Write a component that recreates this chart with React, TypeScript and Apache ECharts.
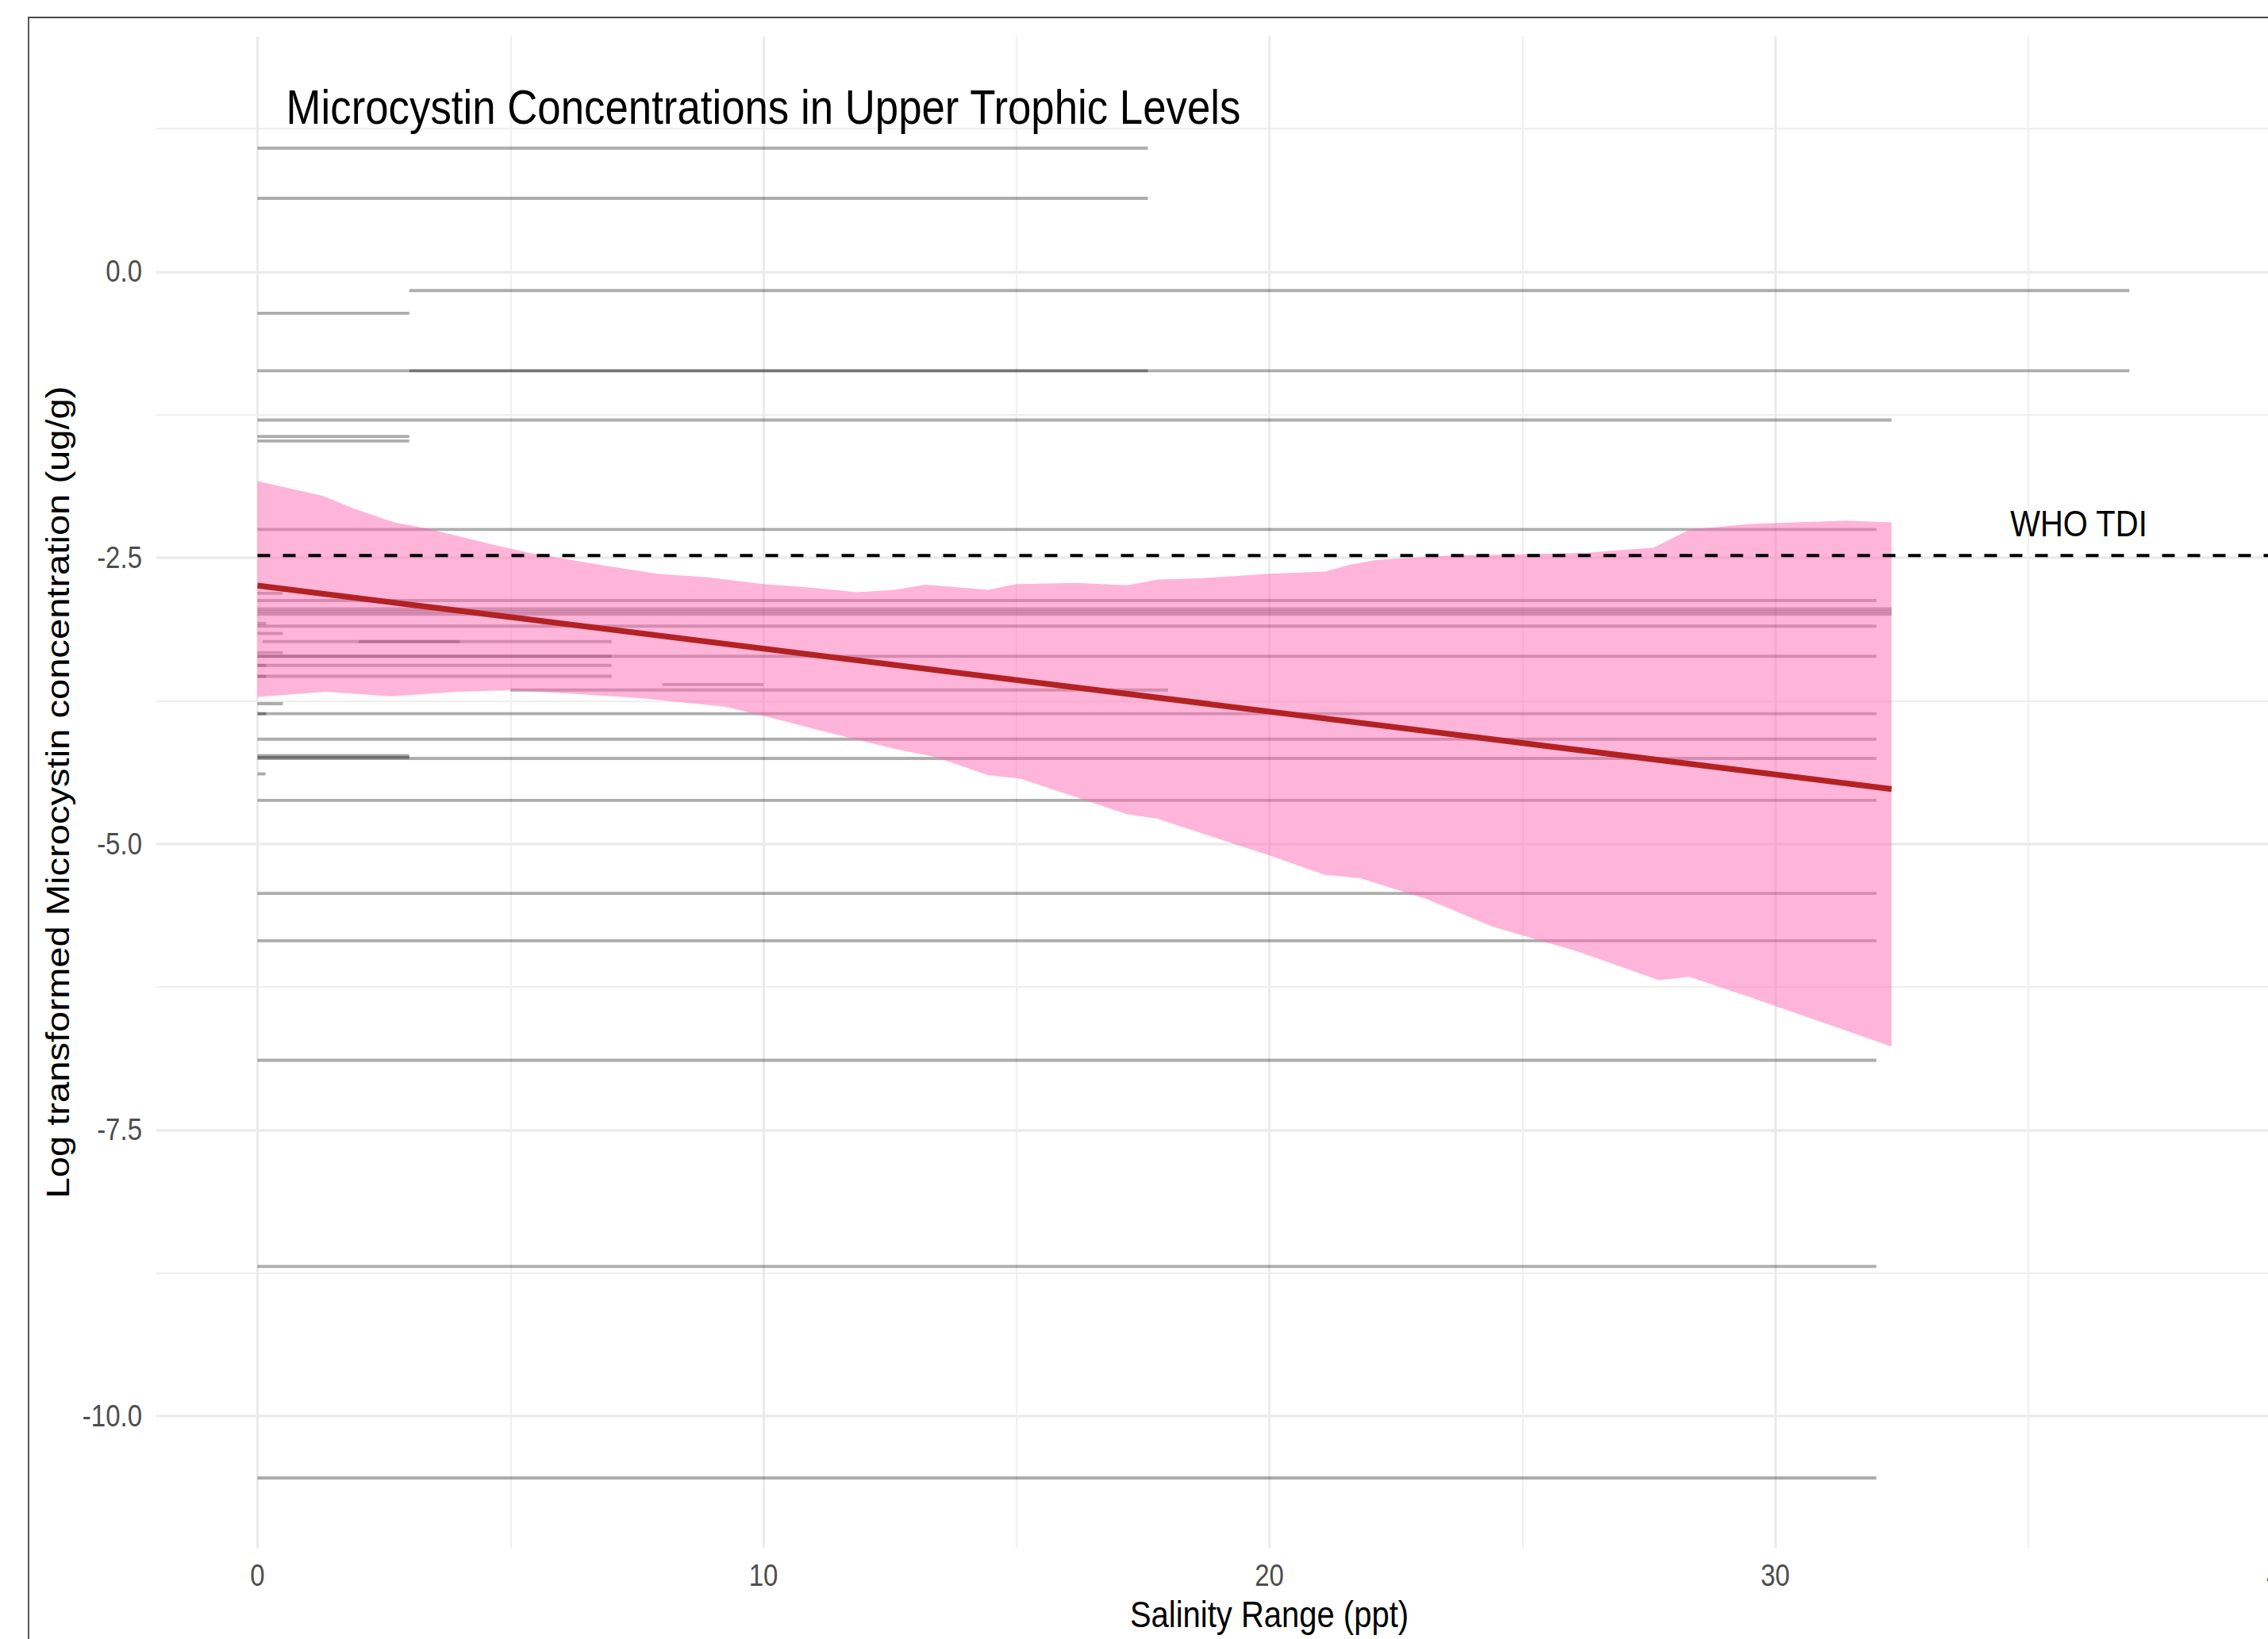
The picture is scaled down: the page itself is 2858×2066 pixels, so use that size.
import React, { useEffect, useRef } from 'react';
import * as echarts from 'echarts';

// ---------------- data ----------------
// Each grey segment: a salinity range (from -> to) at one log concentration
const segY = [
  1.082, 0.645, -0.164, -0.363, -0.867, -0.867, -1.292, -1.44, -1.475,
  -2.25, -2.81, -2.875, -2.94, -2.965, -2.99, -3.07, -3.095, -3.16,
  -3.23, -3.23, -3.33, -3.355, -3.355, -3.44, -3.44, -3.537, -3.537,
  -3.608, -3.65, -3.77, -3.86, -3.86, -4.08, -4.225, -4.245, -4.25,
  -4.385, -4.62, -5.43, -5.845, -6.887, -8.688, -10.539,
];
const segFrom = [
  0, 0, 3, 0, 0, 3, 0, 0, 0,
  0, 0, 0, 0, 0, 0, 0, 0, 0,
  0.1, 2, 0, 0, 0, 0, 0, 0, 0,
  8, 5, 0, 0, 0, 0, 0, 0, 0,
  0, 0, 0, 0, 0, 0, 0,
];
const segTo = [
  17.6, 17.6, 37, 3, 37, 17.6, 32.3, 3, 3,
  32, 0.5, 32, 32.3, 32.3, 32.3, 0.17, 32, 0.5,
  7, 4, 0.5, 32, 7, 7, 0.17, 7, 0.17,
  10, 18, 0.5, 32, 0.17, 32, 3, 3, 32,
  0.16, 32, 32, 32, 32, 32, 32,
];

// Confidence band of the regression
const ciUpperX = [0, 1.3, 1.9, 2.7, 3.4, 4.6, 5.4, 6.9, 7.9, 8.9, 10, 10.8, 11.85, 12.6, 13.2, 14.45, 15, 16.2, 17.2, 17.8, 18.6, 20, 21.1, 21.6, 22.1, 23.6, 25, 26.3, 27.6, 28.3, 29.5, 31.4, 32.3];
const ciUpperY = [-1.83, -1.96, -2.07, -2.19, -2.25, -2.38, -2.46, -2.57, -2.64, -2.67, -2.73, -2.755, -2.8, -2.78, -2.735, -2.78, -2.73, -2.72, -2.74, -2.69, -2.68, -2.64, -2.62, -2.56, -2.52, -2.48, -2.47, -2.455, -2.41, -2.255, -2.205, -2.175, -2.19];
const ciLowerX = [0, 1.35, 2.65, 3.96, 5, 6.3, 7.6, 9.24, 10, 11.3, 12.6, 13.4, 14.45, 15.08, 16.18, 17.18, 17.79, 20, 21.1, 21.8, 23.1, 24.4, 26.1, 27.7, 28.3, 29.5, 31.4, 32.3];
const ciLowerY = [-3.715, -3.67, -3.71, -3.67, -3.657, -3.69, -3.727, -3.8, -3.88, -4.03, -4.17, -4.24, -4.4, -4.43, -4.59, -4.74, -4.78, -5.1, -5.27, -5.3, -5.48, -5.72, -5.94, -6.19, -6.16, -6.34, -6.63, -6.77];

// Fitted regression line
const fitX = [0, 32.3];
const fitY = [-2.743, -4.52];

// WHO TDI reference line
const whoX = [0, 42];
const whoY = [-2.48, -2.48];

// Text annotations placed in data space
const annotationLabels = ['Microcystin Concentrations in Upper Trophic Levels', 'WHO TDI'];
const annotationX = [10, 36];
const annotationY = [1.44, -2.2];

// Axis ticks
const xMajorTicks = [0, 10, 20, 30, 40];
const xMinorTicks = [5, 15, 25, 35];
const yMajorTicks = [-10, -7.5, -5, -2.5, 0];
const yMinorTicks = [-8.75, -6.25, -3.75, -1.25, 1.25];

// ---------------- layout ----------------
const W_VIEW = 2858;
const W_CHART = 3100;
const H_FULL = 2066;
const H_INNER = 1797;
const STRETCH = H_FULL / H_INNER;
const FONT = '"Liberation Sans", Arial, Helvetica, sans-serif';
const X_MIN = -2;
const X_MAX = 42;
const Y_MIN = -11.15;
const Y_MAX = 2.055;
const ANNOT_SIZES = [52.8, 40];

function buildOption(): any {
  const majorLine = { color: '#EBEBEB', width: 3 };
  const minorLine = { color: '#EFEFEF', width: 1.8 };
  return {
    animation: false,
    backgroundColor: '#ffffff',
    textStyle: { fontFamily: FONT },
    grid: { show: false, left: 197, top: 40, width: 2805, height: 1657 },
    xAxis: [
      {
        type: 'value', min: X_MIN, max: X_MAX,
        axisLine: { show: false },
        axisTick: { show: false, customValues: xMajorTicks },
        axisLabel: { customValues: xMajorTicks, fontSize: 33, color: '#4D4D4D', margin: 14, fontFamily: FONT, formatter: (v: number) => String(v) },
        splitLine: { show: true, lineStyle: majorLine },
        name: 'Salinity Range (ppt)', nameLocation: 'middle', nameGap: 53,
        nameTextStyle: { fontSize: 40, color: '#000000', fontFamily: FONT },
      },
      {
        type: 'value', min: X_MIN, max: X_MAX,
        axisLine: { show: false },
        axisTick: { show: false, customValues: xMinorTicks },
        axisLabel: { show: false },
        splitLine: { show: true, lineStyle: minorLine },
      },
    ],
    yAxis: [
      {
        type: 'value', min: Y_MIN, max: Y_MAX,
        axisLine: { show: false },
        axisTick: { show: false, customValues: yMajorTicks },
        axisLabel: { customValues: yMajorTicks, fontSize: 33, color: '#4D4D4D', margin: 18, fontFamily: FONT, formatter: (v: number) => v.toFixed(1) },
        splitLine: { show: true, lineStyle: majorLine },
        name: 'Log transformed Microcystin concentration (ug/g)', nameLocation: 'middle', nameGap: 104, nameRotate: 90,
        nameTextStyle: { fontSize: 41, color: '#000000', fontFamily: FONT },
      },
      {
        type: 'value', min: Y_MIN, max: Y_MAX,
        axisLine: { show: false },
        axisTick: { show: false, customValues: yMinorTicks },
        axisLabel: { show: false },
        splitLine: { show: true, lineStyle: minorLine },
      },
    ],
    graphic: [
      {
        type: 'rect', x: 36, y: 22 / STRETCH, silent: true, z: 100,
        shape: { x: 0, y: 0, width: 6000, height: 6000 },
        style: { fill: 'none', stroke: '#474747', lineWidth: 1.8 },
      },
    ],
    series: [
      {
        type: 'lines', coordinateSystem: 'cartesian2d', xAxisIndex: 0, yAxisIndex: 0,
        silent: true, z: 2,
        lineStyle: { color: '#000000', opacity: 0.32, width: 3.4, cap: 'butt' },
        data: segY.map((y, i) => ({ coords: [[segFrom[i], y], [segTo[i], y]] })),
      },
      {
        type: 'custom', xAxisIndex: 0, yAxisIndex: 0, silent: true, z: 3,
        data: [[0, 0]],
        renderItem: (params: any, api: any) => {
          if (params.dataIndex !== 0) return null;
          const pts: number[][] = [];
          for (let i = 0; i < ciUpperX.length; i++) pts.push(api.coord([ciUpperX[i], ciUpperY[i]]));
          for (let i = ciLowerX.length - 1; i >= 0; i--) pts.push(api.coord([ciLowerX[i], ciLowerY[i]]));
          return { type: 'polygon', shape: { points: pts }, style: { fill: 'rgba(255,105,180,0.5)' } };
        },
      },
      {
        type: 'line', xAxisIndex: 0, yAxisIndex: 0, silent: true, z: 4,
        symbol: 'none',
        lineStyle: { color: '#B22222', width: 6.3 },
        data: fitX.map((x, i) => [x, fitY[i]]),
      },
      {
        type: 'line', xAxisIndex: 0, yAxisIndex: 0, silent: true, z: 5,
        symbol: 'none',
        lineStyle: { color: '#000000', width: 3.5, type: [16, 16] },
        data: whoX.map((x, i) => [x, whoY[i]]),
      },
      {
        type: 'custom', xAxisIndex: 0, yAxisIndex: 0, silent: true, z: 6,
        data: annotationX.map((x, i) => [x, annotationY[i]]),
        renderItem: (params: any, api: any) => {
          const i = params.dataIndex;
          const p = api.coord([api.value(0), api.value(1)]);
          return {
            type: 'text', x: p[0], y: p[1],
            style: {
              text: annotationLabels[i], fontSize: ANNOT_SIZES[i], fontFamily: FONT,
              fill: '#000000', align: 'center', verticalAlign: 'middle',
              textAlign: 'center', textVerticalAlign: 'middle',
            },
          };
        },
      },
    ],
  };
}

export default function App() {
  const ref = useRef<HTMLDivElement>(null);
  useEffect(() => {
    if (!ref.current) return;
    const chart = echarts.init(ref.current, null, { renderer: 'svg' });
    chart.setOption(buildOption());
    return () => chart.dispose();
  }, []);
  return (
    <div style={{ position: 'fixed', left: 0, top: 0, width: W_VIEW, height: H_FULL, overflow: 'hidden', background: '#ffffff' }}>
      <div
        ref={ref}
        style={{ width: W_CHART, height: H_INNER, transform: `scaleY(${STRETCH})`, transformOrigin: '0 0' }}
      />
    </div>
  );
}
